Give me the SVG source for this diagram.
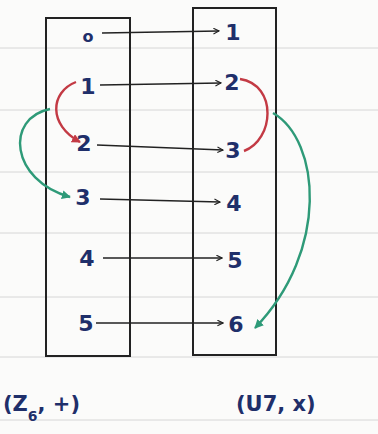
<svg xmlns="http://www.w3.org/2000/svg" width="378" height="434" viewBox="0 0 378 434">
<defs>
<marker id="ab" viewBox="0 0 10 10" refX="9" refY="5" markerWidth="7" markerHeight="7" orient="auto" markerUnits="userSpaceOnUse"><path d="M1,1 L9,5 L1,9" fill="none" stroke="#222" stroke-width="1.6"/></marker>
<marker id="ar" viewBox="0 0 10 10" refX="9" refY="5" markerWidth="9" markerHeight="9" orient="auto" markerUnits="userSpaceOnUse"><path d="M0,0 L10,5 L0,10 z" fill="#c33a44"/></marker>
<marker id="ag" viewBox="0 0 10 10" refX="9" refY="5" markerWidth="9" markerHeight="9" orient="auto" markerUnits="userSpaceOnUse"><path d="M0,0 L10,5 L0,10 z" fill="#2e9a78"/></marker>
<style>
.rule{stroke:#d6d6d6;stroke-width:1}
.box{fill:none;stroke:#222;stroke-width:2}
.t{font-family:"DejaVu Sans",sans-serif;font-size:22px;fill:#1f2f6a;font-weight:bold;text-anchor:middle;dominant-baseline:central}
.lab{font-family:"DejaVu Sans",sans-serif;font-size:21px;fill:#1f2f6a;font-weight:bold;dominant-baseline:central}
.blk{fill:none;stroke:#222;stroke-width:1.6;marker-end:url(#ab)}
.red{fill:none;stroke:#c33a44;stroke-width:2.4}
.grn{fill:none;stroke:#2e9a78;stroke-width:2.4;marker-end:url(#ag)}
</style>
</defs>
<rect width="378" height="434" fill="#fbfbfa"/>
<g id="rules">
<line class="rule" x1="0" y1="48" x2="378" y2="48"/>
<line class="rule" x1="0" y1="110" x2="378" y2="110"/>
<line class="rule" x1="0" y1="172" x2="378" y2="172"/>
<line class="rule" x1="0" y1="233" x2="378" y2="233"/>
<line class="rule" x1="0" y1="297" x2="378" y2="297"/>
<line class="rule" x1="0" y1="357" x2="378" y2="357"/>
<line class="rule" x1="0" y1="420" x2="378" y2="420"/>
</g>
<g id="Z6">
<rect class="box" x="46" y="18" width="84" height="338"/>
<text class="t" x="88" y="36" style="font-size:16px">o</text>
<text class="t" x="88" y="86">1</text>
<text class="t" x="84" y="143">2</text>
<text class="t" x="83" y="197">3</text>
<text class="t" x="87" y="258">4</text>
<text class="t" x="86" y="323">5</text>
<text class="lab" x="3" y="404">(Z<tspan font-size="14" dy="12">6</tspan><tspan dy="-12">, +)</tspan></text>
</g>
<g id="U7">
<rect class="box" x="193" y="8" width="83" height="347"/>
<text class="t" x="233" y="32">1</text>
<text class="t" x="232" y="82">2</text>
<text class="t" x="233" y="150">3</text>
<text class="t" x="234" y="203">4</text>
<text class="t" x="235" y="260">5</text>
<text class="t" x="236" y="324">6</text>
<text class="lab" x="236" y="404">(U7, x)</text>
</g>
<g id="connectors">
<path class="blk" d="M102,33 L219,31"/>
<path class="blk" d="M100,85 L221,83"/>
<path class="blk" d="M97,145 L223,150"/>
<path class="blk" d="M100,199 L220,202"/>
<path class="blk" d="M103,258 L222,258"/>
<path class="blk" d="M96,323 L223,323"/>
<path class="red" style="marker-end:url(#ar)" d="M76,82 C50,92 48,125 80,142"/>
<path class="red" d="M240,79 C278,85 274,140 244,151"/>
<path class="grn" d="M50,109 C5,118 10,180 70,197"/>
<path class="grn" d="M273,113 C320,140 330,250 255,328"/>
</g>
</svg>
